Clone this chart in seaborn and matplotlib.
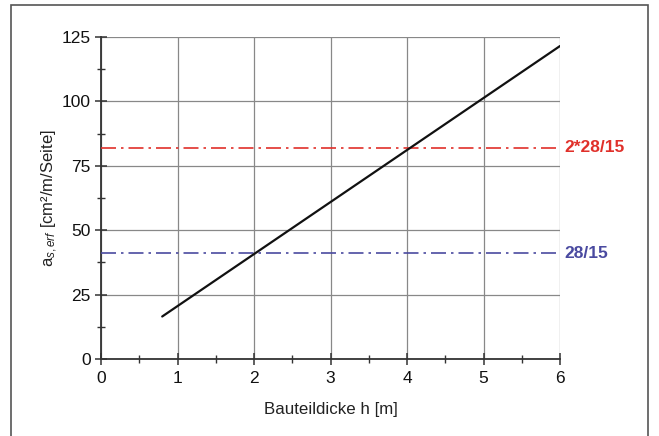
import matplotlib
matplotlib.use("Agg")
import matplotlib.pyplot as plt
from matplotlib.patches import Rectangle
from matplotlib.ticker import MultipleLocator
import seaborn as sns
import pandas as pd

# Data
h_values = [0.8, 6.0]            # Bauteildicke h [m]
as_values = [16.5, 121.5]        # a_s,erf [cm²/m/Seite]
ref_values = [82.0, 41.0]
ref_labels = ["2*28/15", "28/15"]
ref_colors = ["#e0302a", "#4a4aa0"]
x_ticks = [0, 1, 2, 3, 4, 5, 6]
y_ticks = [0, 25, 50, 75, 100, 125]

sns.set_style("white")
plt.rcParams['font.family'] = ['Liberation Sans', 'DejaVu Sans']
plt.rcParams['mathtext.fontset'] = 'custom'
plt.rcParams['mathtext.rm'] = 'Liberation Sans'
plt.rcParams['mathtext.it'] = 'Liberation Sans:italic'

fig = plt.figure(figsize=(6.59, 4.36), dpi=100)
ax = fig.add_axes([101/659, 1-359/436, (560-101)/659, (359-37)/436])

# outer frame
fig.patches.append(Rectangle((11/659, -0.05), (648-11)/659, 1-5/436+0.05,
                             transform=fig.transFigure, fill=False,
                             edgecolor="#555555", linewidth=1.2))

df = pd.DataFrame({"h": h_values, "a": as_values})
sns.lineplot(data=df, x="h", y="a", ax=ax, color="#111111", linewidth=1.6, zorder=4)

for v, lab, c in zip(ref_values, ref_labels, ref_colors):
    ax.axhline(v, color=c, linestyle=(0, (9, 3, 1.5, 3)), linewidth=1.2, zorder=3)
    ax.text(6.06, v, lab, color=c, fontsize=12.5, fontweight="bold",
            va="center", ha="left", transform=ax.transData, clip_on=False)

ax.set_xlim(0, 6)
ax.set_ylim(0, 125)
ax.set_xticks(x_ticks)
ax.set_yticks(y_ticks)
ax.xaxis.set_minor_locator(MultipleLocator(0.5))
ax.yaxis.set_minor_locator(MultipleLocator(12.5))
ax.grid(True, which="major", color="#888888", linewidth=0.9)
ax.set_axisbelow(True)

for s in ["top", "right"]:
    ax.spines[s].set_visible(False)
for s in ["left", "bottom"]:
    ax.spines[s].set_color("#333333")
    ax.spines[s].set_linewidth(1.3)

ax.tick_params(axis="both", which="major", direction="inout", length=9, width=1.1,
               color="#333333", labelsize=12.5, labelcolor="#111111", pad=3)
ax.tick_params(axis="x", which="major", pad=4)
ax.tick_params(axis="both", which="minor", direction="inout", length=6, width=1.0,
               color="#333333")
ax.tick_params(axis="both", which="both", bottom=True, left=True)

ax.set_xlabel("Bauteildicke h [m]", fontsize=12.2, color="#222222", labelpad=12)
ax.set_ylabel(r"a$_{s,\mathit{erf}}$ [cm²/m/Seite]", fontsize=12, color="#222222", labelpad=1)

fig.savefig("out.png", dpi=100)
